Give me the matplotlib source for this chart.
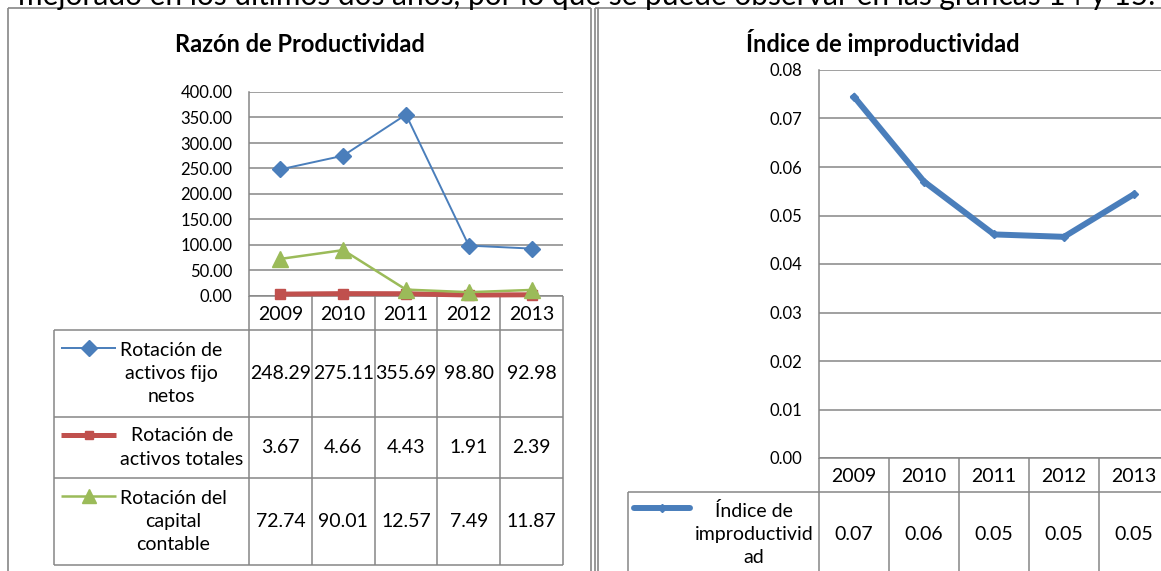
import matplotlib

matplotlib.use("Agg")
import matplotlib.pyplot as plt  # noqa: E402

plt.rcParams["font.family"] = ["Lato", "DejaVu Sans"]

W, H = 1161, 571
GRID = "#868686"
BLUE = "#4A7EBB"
RED = "#C0504D"
GREEN = "#9BBB59"

years = ["2009", "2010", "2011", "2012", "2013"]
activos_fijos = [248.29, 275.11, 355.69, 98.80, 92.98]
activos_totales = [3.67, 4.66, 4.43, 1.91, 2.39]
capital_contable = [72.74, 90.01, 12.57, 7.49, 11.87]
improductividad = [0.0745, 0.0570, 0.0461, 0.0456, 0.0544]

left_labels = ["Rotación de\nactivos fijo\nnetos", "Rotación de\nactivos totales", "Rotación del\ncapital\ncontable"]
right_label = "Índice de\nimproductivid\nad"
intro = "mejorado en los últimos dos años, por lo que se puede observar en las gráficas 14 y 15."

FS = 14  # table text size

fig = plt.figure(figsize=(W / 100, H / 100), dpi=100)
fig.patch.set_facecolor("white")

# canvas in pixel coordinates for frames and data tables
cv = fig.add_axes([0, 0, 1, 1], zorder=0)
cv.set_xlim(0, W)
cv.set_ylim(H, 0)
cv.axis("off")


def hline(y, x0, x1, lw=1.1):
    cv.plot([x0, x1], [y, y], color=GRID, lw=lw, clip_on=False, solid_capstyle="butt")


def vline(x, y0, y1, lw=1.1):
    cv.plot([x, x], [y0, y1], color=GRID, lw=lw, clip_on=False, solid_capstyle="butt")


def legend_key(x0, x1, y, color, lw, marker, ms, cap="butt"):
    cv.plot([x0, x1], [y, y], color=color, lw=lw, solid_capstyle=cap)
    cv.plot([(x0 + x1) / 2], [y], color=color, marker=marker, ms=ms, ls="none")


def px_axes(x0, y0, x1, y1):
    ax = fig.add_axes([x0 / W, 1 - y1 / H, (x1 - x0) / W, (y1 - y0) / H], zorder=2)
    ax.patch.set_alpha(0)
    for s in ("top", "right", "bottom"):
        ax.spines[s].set_visible(False)
    ax.spines["left"].set_color(GRID)
    ax.spines["left"].set_linewidth(1.1)
    ax.tick_params(length=0, pad=12, labelsize=12)
    ax.set_xticks([])
    ax.set_xlim(-0.5, len(years) - 0.5)
    ax.grid(axis="y", color=GRID, lw=1.1)
    ax.set_axisbelow(True)
    return ax


# cut-off line of body text above the charts, sized to span the page width
t = cv.text(18, 5, intro, fontsize=20, va="baseline", ha="left")
fig.canvas.draw()
tw = t.get_window_extent().width
t.set_fontsize(20 * 1140 / tw)

# frames
hline(8, 8, 591, lw=1.2)
vline(8, 8, H + 5, lw=1.2)
vline(591, 8, H + 5, lw=1.2)
vline(595, 8, H + 5, lw=1.2)
vline(598, 8, H + 5, lw=1.2)
hline(8, 595, W + 5, lw=1.2)

# ---------------- left chart ----------------
L0, L1, LT, LB = 249, 563, 92, 296
cv.text(300, 45, "Razón de Productividad", fontsize=17, fontweight="bold", ha="center", va="center")
ax = px_axes(L0, LT, L1, LB)
ax.set_ylim(0, 400)
ax.set_yticks(range(0, 401, 50))
ax.set_yticklabels([f"{v:.2f}" for v in range(0, 401, 50)])
x = range(len(years))
ax.plot(x, activos_totales, color=RED, lw=3.6, marker="s", ms=6.5, clip_on=False, zorder=3)
ax.plot(x, capital_contable, color=GREEN, lw=1.8, marker="^", ms=11, clip_on=False, zorder=4)
ax.plot(x, activos_fijos, color=BLUE, lw=1.4, marker="D", ms=8.5, clip_on=False, zorder=5)

cw = (L1 - L0) / len(years)
rows = [(330, 417), (417, 478), (478, 565)]
TL = 54
hline(LB, L0, L1)
hline(330, TL, L1)
for _, yb in rows:
    hline(yb, TL, L1)
vline(TL, 330, 565)
for i in range(len(years) + 1):
    vline(L0 + i * cw, LB, 565)
for i, yr in enumerate(years):
    cv.text(L0 + (i + 0.5) * cw, (LB + 330) / 2 + 1, yr, fontsize=FS, ha="center", va="center")

series = [
    (activos_fijos, left_labels[0], (BLUE, 1.4, "D", 8), 171),
    (activos_totales, left_labels[1], (RED, 3.6, "s", 6), 182),
    (capital_contable, left_labels[2], (GREEN, 1.8, "^", 10), 173),
]
for (vals, lab, (col, lw, mk, ms), lx), (yt, yb) in zip(series, rows):
    n = lab.count("\n") + 1
    ym = (yt + yb) / 2
    legend_key(61, 116, ym - (n - 1) * 26 / 2, col, lw, mk, ms)
    cv.text(lx, ym, lab, fontsize=FS, ha="center", va="center", linespacing=1.45)
    for i, v in enumerate(vals):
        cv.text(L0 + (i + 0.5) * cw, ym, f"{v:.2f}", fontsize=FS, ha="center", va="center")

# ---------------- right chart ----------------
R0, R1, RT, RB = 819, 1169, 70, 458
cv.text(883, 43, "Índice de improductividad", fontsize=17, fontweight="bold", ha="center", va="center")
ax2 = px_axes(R0, RT, R1, RB)
ax2.set_ylim(0, 0.08)
ticks = [i / 100 for i in range(9)]
ax2.set_yticks(ticks)
ax2.set_yticklabels([f"{v:.2f}" for v in ticks])
ax2.plot(x, improductividad, color=BLUE, lw=4.3, marker="D", ms=4.5, clip_on=False, solid_joinstyle="round")

cw2 = (R1 - R0) / len(years)
TR = 628
hline(RB, R0, W + 5)
hline(492, TR, W + 5)
vline(TR, 492, H + 5)
for i in range(len(years) + 1):
    vline(R0 + i * cw2, RB, H + 5)
for i, yr in enumerate(years):
    cv.text(R0 + (i + 0.5) * cw2, (RB + 492) / 2 + 1, yr, fontsize=FS, ha="center", va="center")
legend_key(634, 690, 508, BLUE, 4.3, "D", 4.5, cap="round")
cv.text(754, 534, right_label, fontsize=FS, ha="center", va="center", linespacing=1.45)
for i, v in enumerate(improductividad):
    cv.text(R0 + (i + 0.5) * cw2, 535, f"{v:.2f}", fontsize=FS, ha="center", va="center")

fig.savefig("out.png", dpi=100)
